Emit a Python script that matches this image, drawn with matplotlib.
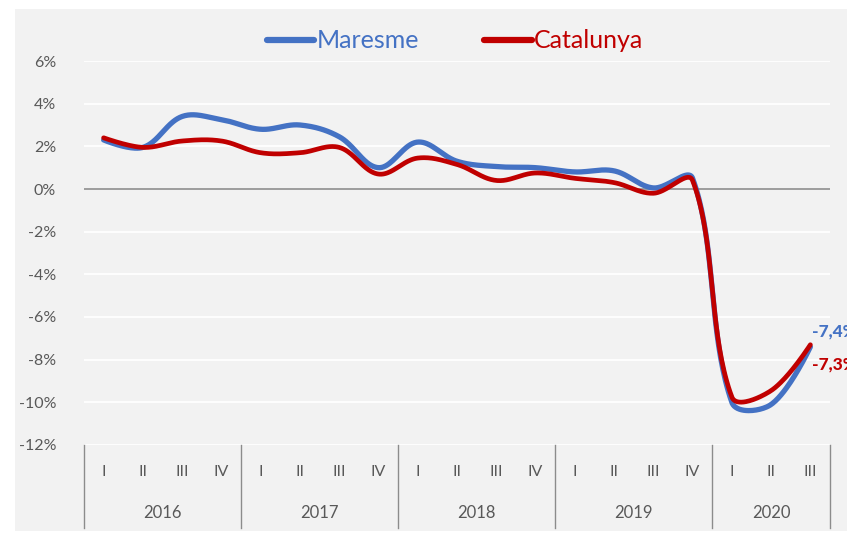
import numpy as np
import matplotlib
matplotlib.use("Agg")
from matplotlib import pyplot as plt
from matplotlib.patches import Rectangle

plt.rcParams['font.family'] = ['Lato', 'DejaVu Sans']

years = ['2016', '2017', '2018', '2019', '2020']
quarters_per_year = [4, 4, 4, 4, 3]
roman = ['I', 'II', 'III', 'IV']

maresme = [2.3, 1.95, 3.4, 3.25, 2.8, 3.0, 2.45, 1.0, 2.2, 1.3, 1.05, 1.0, 0.8, 0.85, 0.05, 0.5, -10.0, -10.1, -7.4]
catalunya = [2.4, 1.95, 2.25, 2.25, 1.7, 1.7, 1.95, 0.7, 1.45, 1.15, 0.4, 0.75, 0.5, 0.3, -0.2, 0.4, -9.75, -9.45, -7.3]

blue = '#4472C4'
red = '#C00000'
grey_txt = '#595959'

# pixel scale of the axes, so the smoothing works in screen space
PX_X = 39.26
PX_Y = 21.3


def smooth(x, y, n=40, tension=0.36):
    # bezier smoothing similar to excel "smoothed line"
    P = np.column_stack([np.asarray(x, float) * PX_X, np.asarray(y, float) * PX_Y])
    m = len(P)
    cin = P.copy()
    cout = P.copy()
    for i in range(1, m - 1):
        d = P[i + 1] - P[i - 1]
        l0 = np.hypot(*(P[i] - P[i - 1]))
        l1 = np.hypot(*(P[i + 1] - P[i]))
        cin[i] = P[i] - d * tension * l0 / (l0 + l1)
        cout[i] = P[i] + d * tension * l1 / (l0 + l1)
    t = np.linspace(0, 1, n)[:, None]
    pts = []
    for i in range(m - 1):
        seg = (1 - t) ** 3 * P[i] + 3 * (1 - t) ** 2 * t * cout[i] \
            + 3 * (1 - t) * t ** 2 * cin[i + 1] + t ** 3 * P[i + 1]
        pts.append(seg)
    pts = np.vstack(pts)
    return pts[:, 0] / PX_X, pts[:, 1] / PX_Y


fig = plt.figure(figsize=(8.47, 5.34), dpi=100)
bg = Rectangle((15 / 847, 3 / 534), 832 / 847, 522 / 534,
               transform=fig.transFigure, facecolor='#F2F2F2',
               edgecolor='none', zorder=-10)
fig.add_artist(bg)

ax = fig.add_axes([84 / 847, (534 - 445) / 534, (830 - 84) / 847, 384 / 534])
ax.set_facecolor('none')
ax.set_zorder(1)

n = len(maresme)
xpos = np.arange(n) + 0.5
ax.set_xlim(0, n)
ax.set_ylim(-12, 6)

yt = np.arange(-12, 7, 2)
ax.set_yticks(yt)
ax.set_yticklabels([f'{v}%' for v in yt], color=grey_txt, fontsize=11.5)
ax.tick_params(axis='y', length=0, pad=20)
ax.set_xticks([])
for s in ax.spines.values():
    s.set_visible(False)
for v in yt:
    if v == 0:
        ax.axhline(0, color='#868686', lw=1.1, zorder=1)
    else:
        ax.axhline(v, color='white', lw=1.3, zorder=1)

bx, by = smooth(xpos, maresme)
rx, ry = smooth(xpos, catalunya)
ax.plot(bx, by, color=blue, lw=3.8, solid_capstyle='round', label='Maresme', zorder=3)
ax.plot(rx, ry, color=red, lw=3.4, solid_capstyle='round', label='Catalunya', zorder=4)

# end labels
ax.annotate(f'{maresme[-1]:.1f}%'.replace('.', ','), (xpos[-1], maresme[-1]),
            xytext=(1, 11), textcoords='offset points', color=blue, va='center',
            fontsize=12.5, fontweight='black', annotation_clip=False)
ax.annotate(f'{catalunya[-1]:.1f}%'.replace('.', ','), (xpos[-1], catalunya[-1]),
            xytext=(1, -14), textcoords='offset points', color=red, va='center',
            fontsize=12.5, fontweight='black', annotation_clip=False)

# category axis
trans = ax.get_xaxis_transform()
bounds = np.concatenate([[0], np.cumsum(quarters_per_year)])
for b in bounds:
    ax.plot([b, b], [0, -0.216], transform=trans, color='#8C8C8C', lw=1, clip_on=False)
i = 0
for k, (yr, nq) in enumerate(zip(years, quarters_per_year)):
    for q in range(nq):
        ax.text(xpos[i], -0.07, roman[q], transform=trans, ha='center', va='center',
                color=grey_txt, fontsize=11.5)
        i += 1
    ax.text(bounds[k] + nq / 2, -0.177, yr, transform=trans,
            ha='center', va='center', color=grey_txt, fontsize=12)

leg = ax.legend(loc='center', bbox_to_anchor=(455 / 847, (534 - 41) / 534),
                bbox_transform=fig.transFigure, ncol=2, frameon=False,
                fontsize=18, handlelength=1.9, columnspacing=2.6, handletextpad=0.1)
for t, c in zip(leg.get_texts(), [blue, red]):
    t.set_color(c)
for h in leg.get_lines():
    h.set_linewidth(4.5)

fig.savefig('out.png', dpi=100)
